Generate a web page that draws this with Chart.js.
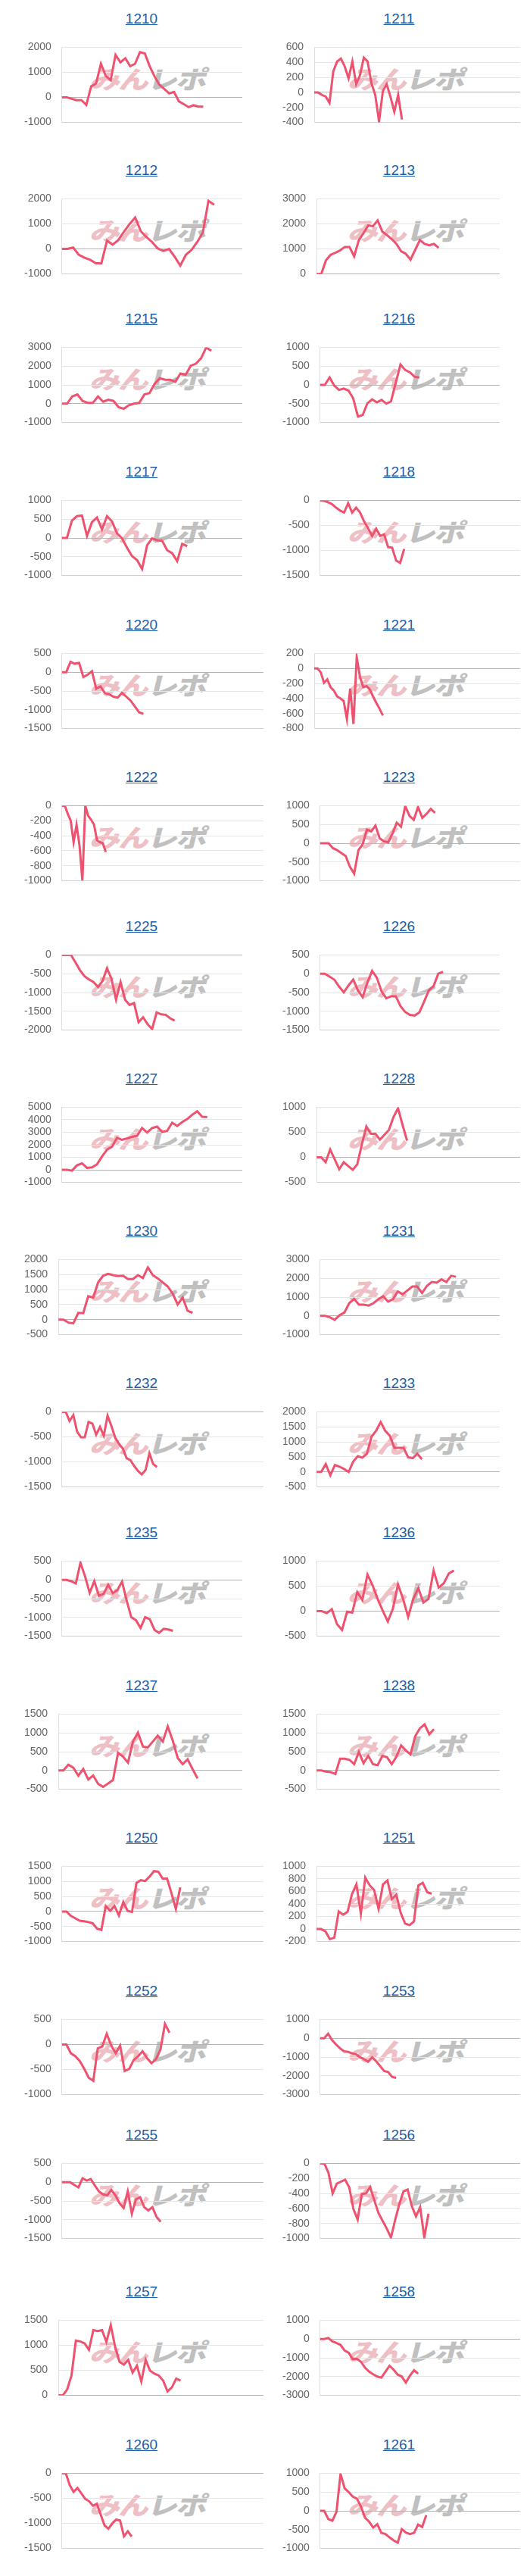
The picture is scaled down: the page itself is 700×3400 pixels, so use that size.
<!DOCTYPE html>
<html><head><meta charset="utf-8">
<script src="https://cdn.jsdelivr.net/npm/chart.js@4/dist/chart.umd.min.js"></script>
<style>
html,body{margin:0;padding:0;background:#fff;}
body{position:relative;width:700px;height:3400px;overflow:hidden;font-family:"Liberation Sans",Arial,sans-serif;}
.title{position:absolute;width:200px;text-align:center;font-size:19px;line-height:24px;}
.title a{color:#1c5ea8;text-decoration:underline;}
.wm{position:absolute;height:34px;white-space:nowrap;font-family:"Noto Sans CJK JP",sans-serif;font-weight:900;font-size:40px;line-height:34px;transform:skewX(-14deg) scaleY(0.82);transform-origin:left top;letter-spacing:-2px;}
.wm .p{color:#eec0c5;}
.wm .g{color:#c0c0c0;}
canvas{position:absolute;}
</style></head><body>
<script>
// ---- data ----
const codes = ['1210','1211','1212','1213','1215','1216','1217','1218','1220','1221','1222','1223','1225','1226','1227','1228','1230','1231','1232','1233','1235','1236','1237','1238','1250','1251','1252','1253','1255','1256','1257','1258','1260','1261'];
const yMins  = [-1000,-400,-1000,0,-1000,-1000,-1000,-1500,-1500,-800,-1000,-1000,-2000,-1500,-1000,-500,-500,-1000,-1500,-500,-1500,-500,-500,-500,-1000,-200,-1000,-3000,-1500,-1000,0,-3000,-1500,-1000];
const yMaxs  = [2000,600,2000,3000,3000,1000,1000,0,500,200,0,1000,0,500,5000,1000,2000,3000,0,2000,500,1000,1500,1500,1500,1000,500,1000,500,0,1500,1000,0,1000];
const ySteps = [1000,200,1000,1000,1000,500,500,500,500,200,200,500,500,500,1000,500,500,1000,500,500,500,500,500,500,500,200,500,1000,500,200,500,1000,500,500];
const xCounts = [38,55,33,40,36,39,37,51,48,64,70,48,41,39,37,46,38,38,54,41,40,37,38,40,47,47,46,51,50,49,48,50,53,50];

const s1210 = [0,0,-55,-110,-110,-300,440,550,1340,850,690,1700,1400,1560,1245,1340,1810,1755,1245,835,500,340,160,220,-160,-270,-390,-315,-370,-370];
const s1211 = [0,0,-34,-55,-139,280,410,450,345,188,410,110,227,463,410,123,-34,-387,18,110,-60,-256,-34,-361];
const s1212 = [0,0,55,-235,-352,-431,-572,-572,329,172,352,689,994,1253,705,470,274,16,-78,0,-313,-666,-235,-39,274,650,1918,1762];
const s1213 = [0,0,548,767,846,940,1080,1080,705,1355,1629,1942,1903,2138,1691,1550,1394,1198,908,806,572,963,1355,1198,1143,1198,1041];
const s1215 = [0,0,386,490,146,42,42,386,104,208,146,-188,-271,-83,0,42,490,563,1063,1355,1271,1271,1167,1605,1532,2021,2126,2417,2990,2813];
const s1216 = [0,0,198,-21,-135,-99,-151,-359,-844,-802,-490,-386,-464,-401,-500,-438,52,542,396,333,214,198];
const s1217 = [0,0,463,579,595,53,421,542,226,579,437,121,-11,-263,-484,-589,-826,-195,-11,-63,-74,-326,-405,-616,-158,-221];
const s1218 = [0,-8,-39,-79,-146,-205,-244,-55,-244,-146,-244,-421,-559,-709,-567,-709,-677,-933,-945,-1201,-1248,-972];
const s1220 = [0,0,276,224,245,-130,-68,26,-443,-380,-557,-589,-651,-677,-547,-651,-755,-911,-1068,-1109];
const s1221 = [0,0,-52,-191,-146,-250,-295,-373,-399,-433,-673,-269,-739,149,-112,-250,-235,-282,-373,-459,-538,-626];
const s1222 = [0,0,-109,-200,-487,-253,-526,-995,0,-135,-188,-253,-461,-487,-500,-617];
const s1223 = [0,0,0,-130,-182,-260,-339,-625,-808,-182,-26,365,313,469,130,52,26,260,547,443,990,729,625,964,677,781,912,807];
const s1225 = [0,0,0,-198,-407,-564,-653,-721,-851,-695,-355,-642,-1190,-720,-1190,-1331,-1279,-1790,-1660,-1843,-1973,-1529,-1581,-1592,-1686,-1749];
const s1226 = [0,0,-78,-157,-339,-496,-313,-157,-444,-626,-235,78,-104,-470,-653,-600,-600,-861,-1018,-1096,-1112,-1028,-746,-444,-329,0,52];
const s1227 = [0,0,-63,361,518,157,204,440,1068,1617,1852,2559,2402,2512,2637,2716,3344,2983,3344,3454,3030,3109,3768,3501,3815,4051,4396,4678,4239,4207];
const s1228 = [0,0,-98,157,-39,-235,-98,-176,-247,-137,255,615,470,470,353,451,549,804,980,647,333];
const s1230 = [0,0,-97,-123,227,214,779,733,1240,1460,1525,1480,1447,1460,1350,1350,1480,1383,1739,1480,1370,1240,1103,863,506,733,292,227];
const s1231 = [0,0,-73,-208,31,177,677,906,594,594,552,677,886,1042,761,886,1303,1146,1355,1563,1563,1219,1594,1803,1771,1948,1803,2136,2084];
const s1232 = [0,0,-184,-66,-398,-508,-508,-203,-234,-457,-301,-477,-78,-281,-516,-641,-730,-926,-965,-1082,-1180,-1250,-1160,-828,-1043,-1101];
const s1233 = [0,0,260,-111,228,176,98,0,345,521,475,605,1172,1367,1660,1367,1204,801,801,801,488,456,605,423];
const s1235 = [0,0,-36,-98,456,93,-347,-36,-425,-373,-130,-357,-269,-47,-554,-995,-1072,-1280,-995,-1047,-1331,-1409,-1305,-1321,-1357];
const s1236 = [0,0,-39,39,-258,-376,-12,-31,380,223,732,517,243,8,-207,47,536,243,-117,243,458,172,243,811,470,556,752,811];
const s1237 = [0,0,152,73,-136,37,-241,-136,-356,-435,-346,-252,472,367,210,770,1006,639,613,770,927,770,1174,796,335,168,299,37,-210];
const s1238 = [0,0,-31,-42,-94,314,314,283,168,493,194,388,168,141,388,351,168,367,665,534,430,912,1121,1226,964,1100];
const s1250 = [0,0,-143,-221,-306,-326,-352,-391,-566,-612,182,20,182,-130,312,20,-13,950,1042,1016,1159,1341,1322,1094,1094,605,85,801];
const s1251 = [0,0,-38,-163,-138,281,228,275,556,713,244,822,697,625,322,713,775,478,550,259,88,63,119,697,738,588,563];
const s1252 = [0,0,-176,-235,-333,-489,-666,-724,-78,-39,215,-20,-176,-20,-529,-489,-313,-235,-137,-274,-372,-294,-98,411,235];
const s1253 = [0,0,240,-105,-334,-543,-700,-731,-805,-857,-1014,-1118,-1254,-1014,-1223,-1484,-1745,-1797,-2059,-2111];
const s1255 = [0,0,0,-73,-141,104,42,84,-89,-245,-324,-350,-209,-350,-559,-689,-245,-835,-454,-402,-663,-752,-663,-924,-1054];
const s1256 = [0,0,-125,-399,-269,-243,-217,-321,-608,-746,-407,-399,-316,-491,-660,-765,-869,-987,-752,-543,-373,-347,-569,-705,-582,-987,-668];
const s1257 = [0,0,118,395,1093,1077,1038,908,1302,1282,1302,1066,1401,966,671,612,710,454,592,276,710,493,434,395,296,79,158,335,296];
const s1258 = [0,0,53,-126,-211,-316,-611,-737,-1074,-1053,-1211,-1527,-1737,-1874,-2000,-2053,-1737,-1421,-1632,-1895,-2000,-2316,-1948,-1664,-1843];
const s1260 = [0,0,-236,-373,-295,-401,-511,-558,-648,-609,-825,-1041,-1107,-1001,-923,-942,-1257,-1158,-1264];
const s1261 = [0,0,-220,-262,-26,984,602,497,377,325,115,-183,-288,-445,-356,-586,-618,-707,-785,-848,-487,-576,-618,-586,-367,-429,-115];

const seriesList = [s1210,s1211,s1212,s1213,s1215,s1216,s1217,s1218,s1220,s1221,s1222,s1223,s1225,s1226,s1227,s1228,s1230,s1231,s1232,s1233,s1235,s1236,s1237,s1238,s1250,s1251,s1252,s1253,s1255,s1256,s1257,s1258,s1260,s1261];

// ---- layout (page positions, not data) ----
const plotTops = [48,248,444,646,848,1049,1246,1447,1648,1849,2046,2248,2449,2651,2841,3048,3250];
const wideFlags = [0,1,0,0,0,0,0,1,1,1,1,1,0,0,0,1,0,0,1,0,0,0,0,0,1,1,1,1,1,1,1,1,1,1];

const LINE = 'rgb(238,82,110)';
const GRID = '#e6e6e6';
const ZERO = '#b5b5b5';
const FONT = '"Liberation Sans", Arial, sans-serif';

codes.forEach((code, i) => {
  const row = Math.floor(i / 2), col = i % 2;
  const pTop = plotTops[row];

  const t = document.createElement('div');
  t.className = 'title';
  t.style.left = (col ? 527 : 187) - 100 + 'px';
  t.style.top = (pTop - 23 - 12) + 'px';
  const a = document.createElement('a');
  a.href = '#'; a.textContent = code;
  t.appendChild(a);
  document.body.appendChild(t);

  const wm = document.createElement('div');
  wm.className = 'wm';
  wm.style.left = (col ? 466 : 125) + 'px';
  wm.style.top = (pTop + 41) + 'px';
  wm.innerHTML = '<span class="p">みん</span><span class="g">レポ</span>';
  document.body.appendChild(wm);

  const c = document.createElement('canvas');
  const W = 332, H = 144;
  c.width = W; c.height = H;
  c.style.width = W + 'px'; c.style.height = H + 'px';
  c.style.left = (col ? 359 : 18) + 'px';
  c.style.top = (pTop - 8) + 'px';
  document.body.appendChild(c);

  const plotRight = col ? (wideFlags[i] ? 687 : 660) : (wideFlags[i] ? 348 : 320);
  const padRight = (col ? 359 : 18) + W - plotRight;
  const labels = Array.from({length: xCounts[i]}, (_, k) => String(k + 1));
  const yMin = yMins[i];

  new Chart(c, {
    type: 'line',
    data: { labels, datasets: [{ data: seriesList[i], borderColor: LINE, borderWidth: 3, pointRadius: 0, tension: 0, fill: false }] },
    options: {
      responsive: false, animation: false, devicePixelRatio: 1,
      events: [],
      layout: { padding: { left: 0, right: padRight, top: 0, bottom: 0 } },
      plugins: { legend: { display: false }, tooltip: { enabled: false } },
      scales: {
        x: { display: false },
        y: {
          min: yMin, max: yMaxs[i],
          ticks: { stepSize: ySteps[i], padding: 14, color: '#666', font: { size: 14, family: FONT }, callback: v => String(v) },
          grid: { drawTicks: false, color: ctx => (ctx.tick && ctx.tick.value === 0) ? ZERO : (ctx.tick && ctx.tick.value === yMin ? '#d0d0d0' : GRID) },
          border: { color: '#e0e0e0' }
        }
      }
    }
  });
});
</script>
</body></html>
